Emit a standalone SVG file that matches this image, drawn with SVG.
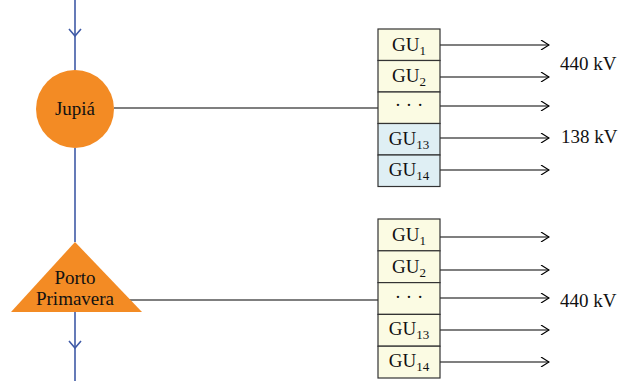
<svg xmlns="http://www.w3.org/2000/svg" width="629" height="381" viewBox="0 0 629 381" font-family="'Liberation Serif', 'Times New Roman', serif">
<defs>
<style>
text{font-family:"Liberation Serif","Times New Roman",serif;font-size:19px;fill:#111}
.sub{font-size:13px}
.y{fill:#fbfbe3;stroke:#333;stroke-width:1.2}
.b{fill:#dfeff4;stroke:#333;stroke-width:1.2}
.c{stroke:#000;stroke-width:1.2;fill:none}
.a{stroke:#000;stroke-width:1.2;fill:none;marker-end:url(#ah)}
.bl{stroke:#3f5aa6;stroke-width:1.6;fill:none}
.node{fill:#f38b24}
</style>
<marker id="ah" viewBox="0 0 10 10" refX="9" refY="5" markerWidth="10" markerHeight="10" markerUnits="userSpaceOnUse" orient="auto">
<path d="M1,0 L9,5 L1,10" fill="none" stroke="#000" stroke-width="1.2"/>
</marker>
</defs>
<g id="connectors">
<line class="bl" x1="75" y1="0" x2="75" y2="70"/>
<path class="bl" d="M69,29 L75,36 L81,29"/>
<line class="bl" x1="75" y1="148" x2="75" y2="242"/>
<line class="bl" x1="75" y1="312" x2="75" y2="381"/>
<path class="bl" d="M69,341 L75,348 L81,341"/>
<line class="c" x1="114" y1="108" x2="378" y2="108"/>
<line class="c" x1="128" y1="300" x2="378" y2="300"/>
<line class="a" x1="440" y1="45" x2="549" y2="45"/>
<line class="a" x1="440" y1="77" x2="549" y2="77"/>
<line class="a" x1="440" y1="106" x2="549" y2="106"/>
<line class="a" x1="440" y1="138" x2="549" y2="138"/>
<line class="a" x1="440" y1="170" x2="549" y2="170"/>
<line class="a" x1="440" y1="237" x2="549" y2="237"/>
<line class="a" x1="440" y1="270" x2="549" y2="270"/>
<line class="a" x1="440" y1="298" x2="549" y2="298"/>
<line class="a" x1="440" y1="330" x2="549" y2="330"/>
<line class="a" x1="440" y1="362" x2="549" y2="362"/>
</g>
<g id="jupia">
<circle class="node" cx="75" cy="109" r="39"/>
<text x="75" y="115" text-anchor="middle">Jupiá</text>
</g>
<g id="porto-primavera">
<polygon class="node" points="75,242 142,312 11,312"/>
<text x="75" y="284" text-anchor="middle">Porto</text>
<text x="75" y="305" text-anchor="middle">Primavera</text>
</g>
<g id="jupia-units">
<rect class="y" x="378" y="29" width="62" height="31.5"/>
<rect class="y" x="378" y="60.5" width="62" height="31.5"/>
<rect class="y" x="378" y="92" width="62" height="31.5"/>
<rect class="b" x="378" y="123.5" width="62" height="31.5"/>
<rect class="b" x="378" y="155" width="62" height="31.5"/>
<text x="409" y="51" text-anchor="middle">GU<tspan class="sub" dy="4">1</tspan></text>
<text x="409" y="82" text-anchor="middle">GU<tspan class="sub" dy="4">2</tspan></text>
<text x="409" y="111" text-anchor="middle">· · ·</text>
<text x="409" y="145" text-anchor="middle">GU<tspan class="sub" dy="4">13</tspan></text>
<text x="409" y="176" text-anchor="middle">GU<tspan class="sub" dy="4">14</tspan></text>
</g>
<g id="porto-units">
<rect class="y" x="378" y="219" width="62" height="31.8"/>
<rect class="y" x="378" y="250.8" width="62" height="31.8"/>
<rect class="y" x="378" y="282.6" width="62" height="31.8"/>
<rect class="y" x="378" y="314.4" width="62" height="31.8"/>
<rect class="y" x="378" y="346.2" width="62" height="31.8"/>
<text x="409" y="241" text-anchor="middle">GU<tspan class="sub" dy="4">1</tspan></text>
<text x="409" y="273" text-anchor="middle">GU<tspan class="sub" dy="4">2</tspan></text>
<text x="409" y="303" text-anchor="middle">· · ·</text>
<text x="409" y="335" text-anchor="middle">GU<tspan class="sub" dy="4">13</tspan></text>
<text x="409" y="367" text-anchor="middle">GU<tspan class="sub" dy="4">14</tspan></text>
</g>
<g id="labels">
<text x="560" y="70">440 kV</text>
<text x="561" y="143">138 kV</text>
<text x="560" y="307">440 kV</text>
</g>
</svg>
